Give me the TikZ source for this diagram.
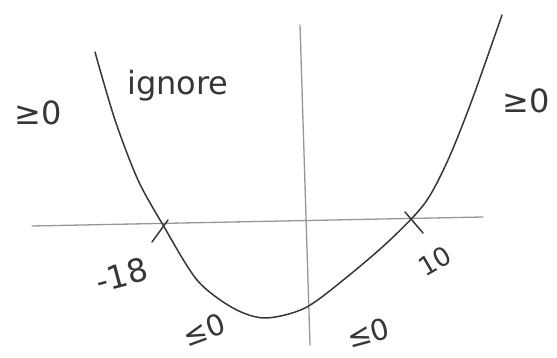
\documentclass[tikz,border=0pt]{standalone}
\usepackage{fontspec}
\setmainfont{DejaVu Sans}
\usetikzlibrary{positioning}
\definecolor{pencil}{RGB}{55,55,55}
\definecolor{lightpencil}{RGB}{150,150,150}

\begin{document}
\begin{tikzpicture}[x=1pt,y=-1pt,
  axisline/.style={lightpencil, line width=1.3pt, line cap=round},
  curveline/.style={pencil, line width=1.5pt, line cap=round, line join=round},
  scribble/.style={pencil, inner sep=0pt, font=\fontsize{32}{32}\selectfont}]
\useasboundingbox (0,0) rectangle (557,358);
% axes
\coordinate (xl) at (32,226);
\coordinate (xr) at (483,217);
\coordinate (yt) at (300,25);
\coordinate (yb) at (310,345);
\draw[axisline] (xl) -- (xr);
\draw[axisline] (yt) -- (yb);
% the parabola
\draw[curveline] plot[smooth] coordinates {(95,52) (115,120) (138,180) (163,225)
  (197,280) (233,308) (265,318) (305,308) (347,277) (390,240)
  (425,203) (448,160) (472,100) (502,15)};
% crossing marks
\draw[curveline] (152,242) -- (168,220);
\draw[curveline] (405,212) -- (423,233);
% labels
\node[scribble] (signl) at (38,113) {≥0};
\node[scribble] (ign) at (178,86) {ignore};
\node[scribble] (signr) at (526,101) {≥0};
\node[scribble, rotate=15] (rootlabl) at (122,275) {-18};
\node[scribble, rotate=30, font=\fontsize{26}{26}\selectfont] (rootlabr) at (435,261) {10};
\node[scribble, rotate=20, font=\fontsize{29}{29}\selectfont] (negl) at (204,330) {≤0};
\node[scribble, rotate=15, font=\fontsize{29}{29}\selectfont] (negr) at (368,333) {≤0};
\end{tikzpicture}
\end{document}
